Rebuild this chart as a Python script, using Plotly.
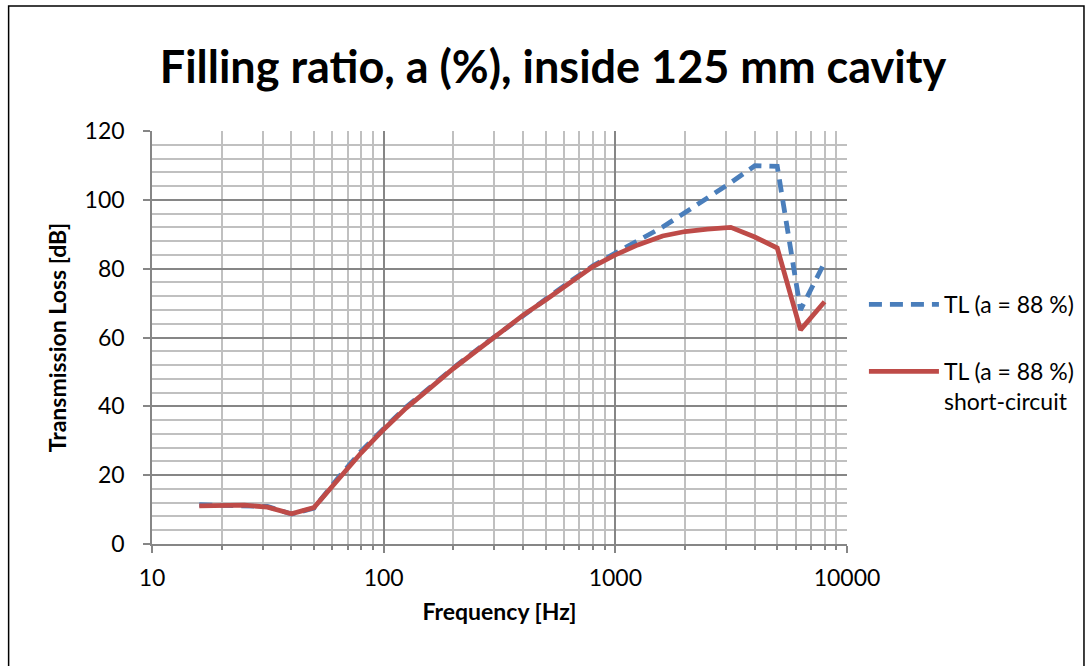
import plotly.graph_objects as go

freqs = [16, 20, 25, 31.5, 40, 50, 63, 80, 100, 125, 160, 200, 250, 315, 400,
         500, 630, 800, 1000, 1250, 1600, 2000, 2500, 3150, 4000, 5000, 6300, 8000]
tl_88 = [11.4, 11.3, 11.3, 10.9, 8.7, 10.4, 18.9, 27.0, 33.5, 39.8, 45.7, 51.2,
         56.2, 61.3, 66.6, 71.1, 76.0, 80.8, 84.5, 88.1, 92.1, 96.3, 100.5, 105.0,
         109.9, 109.7, 68.0, 81.8]
tl_88_sc = [11.1, 11.2, 11.3, 10.7, 8.8, 10.6, 18.5, 26.5, 33.3, 39.5, 45.5, 51.0,
            56.0, 61.1, 66.5, 70.9, 75.8, 80.6, 84.0, 86.9, 89.5, 90.8, 91.5, 92.0,
            89.2, 86.0, 62.2, 70.4]

names = ["TL (a = 88 %)", "TL (a = 88 %)<br>short-circuit"]
title = "Filling ratio, a (%), inside 125 mm cavity"
xlabel = "Frequency [Hz]"
ylabel = "Transmission Loss [dB]"

FONT = "Lato"
W, H = 1091, 666
L, T = 152, 131
R = W - 850
B = H - 544
pw, ph = W - L - R, H - T - B


def px(xpage):
    return (xpage - L) / pw


def py(ypage):
    return (H - B - ypage) / ph


fig = go.Figure()
fig.add_trace(go.Scatter(x=freqs, y=tl_88, mode="lines", name=names[0],
                         legendgroup="a",
                         line=dict(color="#4A7EBB", width=4.8, dash="13px,8px")))
fig.add_trace(go.Scatter(x=freqs, y=tl_88_sc, mode="lines", name=names[1],
                         legendgroup="b",
                         line=dict(color="#BE4B48", width=4.8)))

fig.update_layout(
    width=W, height=H,
    margin=dict(l=L, r=R, t=T, b=B, pad=0),
    paper_bgcolor="white", plot_bgcolor="white",
    font=dict(family=FONT, color="black"),
    title=dict(text="<b>" + title + "</b>", x=553 / W, xanchor="center",
               y=1 - 67 / H, yanchor="middle",
               font=dict(size=45, family=FONT, color="black")),
    showlegend=True,
    legend=dict(x=px(867), y=py(283), xanchor="left", yanchor="top",
                font=dict(size=23, family=FONT, color="black"),
                itemwidth=70, valign="top", tracegroupgap=34,
                bgcolor="rgba(0,0,0,0)"),
)
fig.update_xaxes(
    type="log", range=[1, 4],
    tickvals=[10, 100, 1000, 10000], ticktext=["10", "100", "1000", "10000"],
    showline=True, linecolor="#868686", linewidth=1.5, mirror=False,
    showgrid=True, gridcolor="#868686", gridwidth=1.5,
    ticks="outside", ticklen=7, tickcolor="#868686", tickwidth=1.5,
    ticklabelstandoff=6,
    tickfont=dict(size=23, family=FONT, color="black"),
    minor=dict(dtick="D1", showgrid=True, gridcolor="#C0C0C0", gridwidth=1.5,
               ticks="outside", ticklen=4, tickcolor="#868686"),
    title=dict(text="<b>" + xlabel + "</b>", font=dict(size=23, family=FONT, color="black"),
               standoff=14),
    zeroline=False,
)
fig.update_yaxes(
    range=[0, 120], dtick=20,
    showline=True, linecolor="#868686", linewidth=1.5,
    showgrid=True, gridcolor="#868686", gridwidth=1.5,
    ticks="outside", ticklen=7, tickcolor="#868686", tickwidth=1.5,
    ticklabelstandoff=14,
    tickfont=dict(size=23, family=FONT, color="black"),
    minor=dict(dtick=4, showgrid=True, gridcolor="#C0C0C0", gridwidth=1.5),
    title=dict(text="<b>" + ylabel + "</b>", font=dict(size=23, family=FONT, color="black"),
               standoff=12),
    zeroline=False,
)
# outer chart frame
fig.add_shape(type="rect", xref="paper", yref="paper",
              x0=px(8), x1=px(1088), y0=py(690), y1=py(6),
              line=dict(color="black", width=1.5), layer="below")

fig.write_html(
    "out.html",
    config={"displayModeBar": False},
    post_script="document.body.style.margin='0';document.body.style.overflow='hidden';",
)
